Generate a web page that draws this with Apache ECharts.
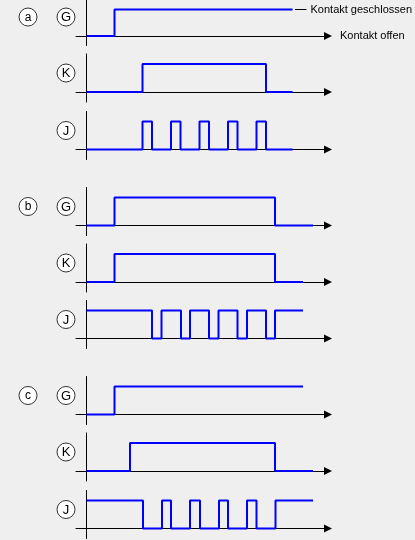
<!DOCTYPE html>
<html><head><meta charset="utf-8">
<script src="https://cdn.jsdelivr.net/npm/echarts@6/dist/echarts.min.js"></script>
<style>html,body{margin:0;padding:0;background:#efefef}#c{width:415px;height:540px}</style>
</head><body><div id="c"></div>
<script>
// group and signal names
const groups = ['a', 'b', 'c'];
const signals = ['G', 'K', 'J'];
const labelClosed = 'Kontakt geschlossen';
const labelOpen = 'Kontakt offen';

// signal transitions: [time, state]  (state 1 = Kontakt geschlossen, 0 = offen)
const aG = [[0,0],[28,1],[206,1]];
const aK = [[0,0],[56,1],[179.5,0],[206,0]];
const aJ = [[0,0],[56,1],[65.5,0],[84.5,1],[94,0],[113,1],[122.5,0],[141.5,1],[151,0],[170,1],[179.5,0],[206,0]];
const bG = [[0,0],[28,1],[188.5,0],[226.5,0]];
const bK = [[0,0],[28,1],[188.5,0],[216.5,0]];
const bJ = [[0,1],[65.5,0],[75,1],[94.5,0],[103.5,1],[122.5,0],[132,1],[151,0],[160.5,1],[179.5,0],[188.5,1],[216.5,1]];
const cG = [[0,0],[28,1],[216.5,1]];
const cK = [[0,0],[43.5,1],[188.5,0],[226.5,0]];
const cJ = [[0,1],[56.5,0],[75.5,1],[84.5,0],[103.5,1],[113.5,0],[132.5,1],[141.5,0],[160.5,1],[170,0],[189,1],[226.5,1]];
const closedMarker = [208.5, 220]; // short black legend dash on a-G

const allSeries = [aG, aK, aJ, bG, bK, bJ, cG, cK, cJ];

// layout (pixel baselines of each panel)
const baselines = [35.5, 92, 149.5, 225.5, 282, 338.5, 414.5, 471, 528.5];
const FONT = 'Liberation Sans, Arial, sans-serif';
const BLUE = '#0000ff';

const chart = echarts.init(document.getElementById('c'), null, {renderer: 'canvas'});

const grids = [], xAxes = [], yAxes = [], series = [];
allSeries.forEach((data, p) => {
  grids.push({left: 76, width: 252, top: baselines[p] - 38, height: 48});
  xAxes.push({
    type: 'value', gridIndex: p, min: -10.5, max: 241.5,
    axisLine: {show: true, onZero: true, symbol: ['none', 'triangle'], symbolSize: [8, 8],
      lineStyle: {color: '#000', width: 1}},
    axisTick: {show: false}, axisLabel: {show: false}, splitLine: {show: false},
    name: p === 0 ? labelOpen : '', nameLocation: 'end', nameGap: 12,
    nameTextStyle: {color: '#000', fontSize: 11, fontFamily: FONT, verticalAlign: 'middle'}
  });
  yAxes.push({
    type: 'value', gridIndex: p, min: -0.357, max: 1.357,
    axisLine: {show: true, onZero: true, lineStyle: {color: '#000', width: 1}},
    axisTick: {show: false}, axisLabel: {show: false}, splitLine: {show: false}
  });
  const s = {
    type: 'line', xAxisIndex: p, yAxisIndex: p, data: data, step: 'end',
    showSymbol: false, symbol: 'none', silent: true, clip: false,
    lineStyle: {color: BLUE, width: 2}
  };
  if (p === 0) {
    s.markLine = {
      silent: true, symbol: ['none', 'none'], animation: false,
      lineStyle: {color: '#000', width: 1, type: 'solid'},
      label: {show: true, position: 'end', formatter: labelClosed, color: '#000',
        fontSize: 11, fontFamily: FONT, distance: 4},
      data: [[{coord: [closedMarker[0], 1]}, {coord: [closedMarker[1], 1]}]]
    };
  }
  series.push(s);
});

chart.setOption({
  backgroundColor: '#efefef',
  animation: false,
  grid: grids, xAxis: xAxes, yAxis: yAxes, series: series
});

const gfx = [];
function circ(cx, cy, txt, fs) {
  gfx.push({type: 'circle', shape: {cx: cx, cy: cy, r: 9},
    style: {fill: '#fff', stroke: '#333', lineWidth: 1}, z: 10});
  gfx.push({type: 'text', x: cx, y: cy + 0.5, z: 11,
    style: {text: txt, fontSize: fs, fontFamily: FONT, fill: '#000', align: 'center', verticalAlign: 'middle'}});
}
allSeries.forEach((d, p) => {
  const pt = chart.convertToPixel({gridIndex: p}, [0, 0]);
  const cy = pt[1] - 19;
  circ(pt[0] - 20.5, cy, signals[p % 3], 13);
  if (p % 3 === 0) circ(pt[0] - 58.5, cy, groups[Math.floor(p / 3)], 12);
});
chart.setOption({graphic: gfx});
</script></body></html>
